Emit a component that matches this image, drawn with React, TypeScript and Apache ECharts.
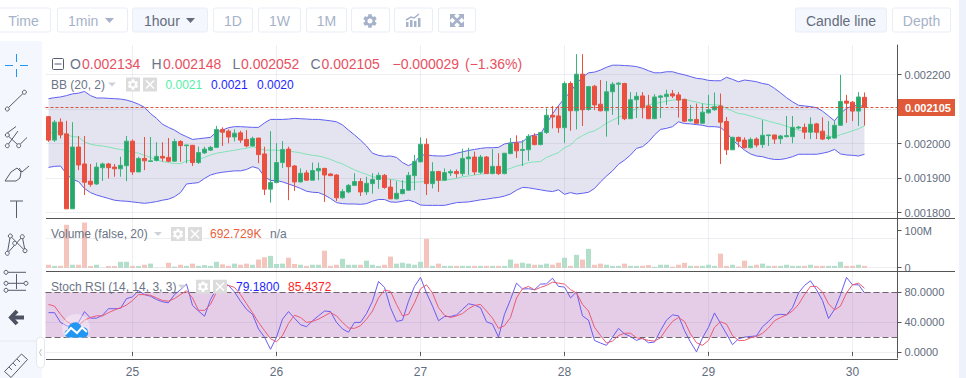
import React, { useEffect, useRef } from "react";
import * as echarts from "echarts";

// [open, close, low, high] in millionths of a unit of price
const candleRows: number[][] = [
[2078,2010,2005,2080],[2010,2062,2005,2068],[2062,2025,2015,2073],[2028,1811,1811,2066],[1811,1990,1811,2062],[1990,1938,1923,2022],[1941,1888,1851,2022],[1891,1882,1875,1941],[1883,1932,1880,1945],[1930,1941,1892,1945],
[1941,1930,1899,1944],[1932,1927,1904,1941],[1927,1937,1904,1962],[1936,2007,1891,2022],[2007,1918,1909,2012],[1918,1957,1917,1962],[1957,1950,1923,2019],[1948,1950,1947,2019],[1951,1963,1948,2004],[1963,1958,1948,2004],
[1960,1949,1946,2016],[1949,2006,1947,2014],[2006,1994,1947,2010],[1994,1996,1943,1996],[1995,1945,1935,1996],[1945,1974,1941,1991],[1973,1984,1970,1991],[1981,1989,1979,1993],[1989,2041,1987,2051],[2041,2033,1993,2047],
[2036,2019,2001,2041],[2019,2030,2006,2041],[2031,2010,2002,2037],[2012,1993,1989,2039],[1993,2015,1991,2020],[2016,1968,1943,2016],[1970,1868,1851,1991],[1868,1887,1829,2036],[1887,1945,1885,2001],[1945,1983,1929,2007],
[1984,1933,1836,1991],[1935,1889,1863,1938],[1889,1914,1887,1928],[1915,1894,1892,1923],[1894,1922,1894,1945],[1921,1928,1894,1945],
[1928,1909,1831,1930],[1912,1907,1906,1914],[1909,1843,1833,1911],[1843,1861,1840,1868],[1860,1879,1856,1883],[1879,1890,1877,1914],[1890,1860,1848,1900],[1860,1885,1851,1904],[1884,1896,1855,1914],[1896,1908,1869,1916],
[1908,1873,1869,1912],[1874,1840,1839,1896],[1840,1856,1838,1891],[1855,1867,1853,1894],[1865,1908,1863,1918],[1907,1948,1865,1967],[1947,1998,1947,2018],[1998,1884,1851,2015],[1884,1919,1870,1946],[1919,1894,1860,1921],
[1894,1916,1892,1928],[1915,1919,1906,1925],[1919,1913,1901,1925],[1913,1957,1906,1985],[1956,1961,1909,1988],[1961,1918,1909,1977],[1917,1961,1912,1967],[1961,1913,1912,1964],[1913,1934,1911,1984],[1934,1913,1909,1972],
[1913,1972,1911,1973],[1971,2001,1969,2016],[2002,1979,1958,2024],[1980,1983,1935,2010],[1982,2021,1950,2027],[2022,1997,1995,2030],[1997,2032,1995,2034],[2032,2082,2028,2102],[2082,2077,2044,2109],[2080,2046,2031,2109],
[2046,2174,2002,2180],[2174,2095,2037,2180],[2095,2201,2041,2259],[2201,2098,2051,2259],[2099,2165,2095,2167],[2166,2112,2097,2170],[2114,2095,2093,2184],[2095,2150,2020,2181],[2150,2172,2083,2178],[2172,2175,2054,2178],
[2174,2072,2068,2176],[2072,2127,2072,2149],[2127,2137,2074,2149],
[2138,2104,2073,2149],[2109,2072,2071,2141],[2072,2135,2071,2143],[2134,2138,2074,2141],[2136,2143,2112,2156],[2144,2138,2132,2155],[2141,2126,2075,2149],[2128,2065,2062,2130],[2066,2070,2063,2112],[2070,2059,2058,2116],
[2059,2091,2058,2116],[2089,2098,2087,2141],[2098,2107,2095,2148],[2109,2062,1941,2145],[2064,1982,1967,2077],[1982,2018,1981,2020],[2018,2007,1989,2020],[2010,1988,1986,2018],[1988,2012,1986,2018],[2013,1996,1989,2018],
[1997,2024,1987,2068],[2023,2025,1993,2025],[2025,2013,1999,2025],[2014,2022,1999,2025],[2020,2023,2018,2080],[2020,2047,2001,2080],[2045,2048,2041,2051],[2047,2033,2013,2058],[2033,2056,2013,2076],[2057,2033,2013,2060],
[2036,2013,2010,2076],[2015,2019,2010,2065],[2016,2053,2014,2065],[2053,2122,2051,2199],[2123,2117,2060,2141],[2120,2094,2065,2123],[2094,2135,2051,2149],[2134,2105,2052,2148],
];

const bbUpper = [
2130,2133,2135,2139,2144,2146,2151,2139,2132,2132,2131,2130,2129,2126,2121,2114,2105,2087,2073,2056,2047,2039,2028,2020,2012,2014,2016,2018,2034,2039,2046,2049,2049,2048,2047,2047,2060,2070,2070,2070,2071,2073,2072,2071,2070,2070,
2068,2066,2063,2054,2039,2025,2010,1993,1972,1966,1963,1964,1960,1945,1936,1945,1967,1967,1965,1964,1964,1967,1972,1976,1980,1983,1986,1988,1988,1989,1999,2002,2004,2005,2020,2025,2027,2057,2086,2110,2131,2150,2174,2192,2205,2207,2213,2221,2227,2227,2226,2225,2223,
2218,2211,2205,2205,2208,2208,2203,2199,2194,2189,2187,2183,2182,2182,2192,2186,2179,2184,2182,2179,2174,2171,2160,2147,2133,2121,2111,2109,2107,2104,2094,2080,2066,2087,2102,2109,2111,2107,
];
const bbLower = [
1931,1934,1935,1912,1896,1890,1870,1858,1851,1846,1841,1836,1834,1833,1831,1829,1827,1829,1832,1836,1839,1846,1858,1883,1885,1887,1899,1909,1914,1917,1919,1921,1921,1925,1933,1928,1904,1893,1893,1889,1883,1877,1870,1862,1859,1858,
1851,1841,1829,1826,1825,1825,1824,1826,1833,1838,1838,1831,1830,1833,1836,1831,1822,1821,1821,1821,1821,1825,1829,1830,1831,1834,1837,1839,1842,1844,1848,1854,1865,1873,1872,1869,1866,1863,1861,1866,1853,1858,1854,1856,1859,1870,1889,1906,1921,1940,1952,1967,1986,
1991,2005,2025,2041,2044,2049,2063,2058,2057,2055,2053,2049,2049,2047,2032,2010,1996,1981,1970,1964,1962,1957,1954,1954,1957,1962,1969,1969,1969,1969,1972,1976,1983,1970,1967,1966,1964,1969,
];
const bbMiddle = [
2030,2033,2035,2026,2020,2019,2005,1998,1995,1993,1990,1986,1983,1979,1976,1972,1966,1960,1952,1948,1945,1942,1942,1950,1952,1954,1960,1967,1972,1975,1978,1981,1984,1986,1991,1987,1981,1981,1981,1979,1978,1976,1973,1969,1966,1964,
1960,1954,1947,1941,1932,1924,1917,1911,1904,1901,1899,1896,1894,1889,1888,1888,1889,1891,1892,1893,1894,1896,1899,1904,1906,1909,1911,1914,1916,1918,1923,1928,1935,1939,1945,1947,1948,1960,1967,1974,1988,1996,2013,2023,2032,2037,2047,2059,2068,2076,2083,2092,2102,
2109,2112,2116,2119,2123,2126,2127,2128,2124,2120,2116,2113,2112,2111,2102,2094,2087,2085,2080,2075,2070,2065,2060,2056,2050,2045,2039,2037,2036,2034,2028,2022,2018,2026,2031,2037,2043,2051,
];

// volume in millions
const volumes = [
8,5,5,116,8,8,122,4.5,8,0.5,4.5,4.5,16,16,5,4.5,8,11,0.5,0.5,13.5,3,8,5,11,5,7,5,16,9,5,11,8,11,8,22,28,32,10,11,27,10,8,5,8,8,
46,5,8,24,8,8,8,19,8,5,8,30,11,13.5,11,8,16,78,5,11,5,5,5,5,5,5,5,5,5,5,5,22,11,13.5,11,8,8,11,8,13.5,27,5,35,22,51,8,11,8,5,5,11,5,5,
5,7,2.5,8,8,3,8,13,5,5,5,8,5,38,5,8,3,19,5,8,11,5,5,5,8,5,5,5,8,5,5,5,5,16,5,5,8,5,
];

const stochK = [
52.7,52.7,39.6,35.2,33.0,39.6,54.1,45.3,45.3,49.2,58.0,58.0,58.5,71.6,73.8,82.2,76.9,74.7,70.3,67.3,65.9,76.9,83.5,91.0,62.4,54.9,47.9,70.3,84.8,92.3,89.2,80.4,68.1,57.1,50.5,30.8,19.8,3.5,19.8,44.0,54.1,45.3,36.5,33.8,41.8,48.4,
54.9,54.1,39.6,30.8,26.4,39.6,39.6,51.4,68.1,94.5,86.6,59.3,40.9,42.6,68.1,87.9,100,79.1,61.5,41.8,47.5,47.5,49.7,57.1,64.6,62.9,59.3,40.4,37.4,19.8,50.5,70.3,92.3,84.4,84.8,83.5,91.0,91.4,98.9,87.9,87.0,72.5,80.4,48.4,42.6,15.4,11.9,8.8,19.8,31.6,24.2,20.7,15.4,
18.5,12.3,13.2,28.6,42.6,49.7,48.4,28.6,13.2,0,18.9,33.0,52.3,38.2,24.2,9.7,17.6,19.8,20.7,21.5,33.8,40.9,49.2,50.5,49.7,59.3,79.1,89.2,95.4,83.5,69.0,44.8,57.1,76.9,100,90.1,90.1,79.18,
];
const stochD = [
63.7,61.5,50.5,40.9,36.5,35.2,42.6,46.2,48.4,48.4,52.7,56.3,59.3,62.9,69.0,76.9,76.9,76.0,72.5,69.0,68.1,71.6,76.9,82.2,72.5,55.8,55.8,63.7,80.4,87.9,89.2,86.6,76.9,64.6,52.7,39.6,28.6,17.6,13.6,22.0,38.2,49.2,46.2,39.6,40.9,44.0,
48.4,52.7,48.4,39.6,32.1,31.6,35.2,44.0,54.9,72.5,83.1,81.3,63.7,48.4,50.5,65.9,84.8,90.1,79.1,59.3,49.2,46.2,48.4,51.4,58.0,62.4,63.7,54.9,45.3,31.6,35.2,46.2,72.5,84.8,87.9,83.1,86.6,89.2,93.6,92.3,91.0,83.5,79.1,63.7,54.9,33.0,22.0,11.9,14.5,22.0,25.1,25.1,18.9,
17.6,15.4,14.5,18.9,30.8,40.9,46.2,40.9,24.2,12.3,8.8,15.4,33.0,40.4,37.4,22.0,15.4,15.4,18.9,20.7,25.1,32.1,41.8,46.2,49.7,54.9,63.7,76.9,87.9,87.9,80.4,64.6,56.3,61.5,79.1,90.1,92.3,85.44,
];

const slotCount = 142;
const dayLabels = ["25", "26", "27", "28", "29", "30"];
const dayFirstSlot = [14, 38, 62, 86, 110, 134];
const priceTicks = [0.0018, 0.0019, 0.002, 0.0022];
const priceGridLines = [0.0018, 0.0019, 0.002, 0.0021, 0.0022];
const lastClose = 0.002105;
const volumeTicks = [0, 100];
const volumeGridLines = [0, 80];
const stochTicks = [0, 40, 80];
const stochGridLines = [0, 40];

const RED = "#e9503f";
const GREEN = "#2aa56c";
const TXT = "#6b7587";
const AXIS_TXT = "#636c7d";
const GRID = "rgba(90,100,135,0.1)";
const FONT = "Liberation Sans";
const ICON = "#555c6b";
const BTN = "#a6b2ca";

const gearD =
  "M19.14,12.94c0.04-0.3,0.06-0.61,0.06-0.94c0-0.32-0.02-0.64-0.07-0.94l2.03-1.58c0.18-0.14,0.23-0.41,0.12-0.61l-1.92-3.32c-0.12-0.22-0.37-0.29-0.59-0.22l-2.39,0.96c-0.5-0.38-1.03-0.7-1.62-0.94L14.4,2.81c-0.04-0.24-0.24-0.41-0.48-0.41h-3.84c-0.24,0-0.43,0.17-0.47,0.41L9.25,5.35C8.66,5.59,8.12,5.92,7.63,6.29L5.24,5.33c-0.22-0.08-0.47,0-0.59,0.22L2.74,8.87C2.62,9.08,2.66,9.34,2.86,9.48l2.03,1.58C4.84,11.36,4.8,11.69,4.8,12s0.02,0.64,0.07,0.94l-2.03,1.58c-0.18,0.14-0.23,0.41-0.12,0.61l1.92,3.32c0.12,0.22,0.37,0.29,0.59,0.22l2.39-0.96c0.5,0.38,1.03,0.7,1.62,0.94l0.36,2.54c0.05,0.24,0.24,0.41,0.48,0.41h3.84c0.24,0,0.44-0.17,0.47-0.41l0.36-2.54c0.59-0.24,1.13-0.56,1.62-0.94l2.39,0.96c0.22,0.08,0.47,0,0.59-0.22l1.92-3.32c0.12-0.22,0.07-0.47-0.12-0.61L19.14,12.94z M12,15.6c-1.98,0-3.6-1.62-3.6-3.6s1.62-3.6,3.6-3.6s3.6,1.62,3.6,3.6S13.98,15.6,12,15.6z";
const cloudD = "M6 16 C1 16 0 9 5 8 C5 3 10 0 14 1 C17 2 18 4 19 6 C24 5 26 10 25 13 C24 15 23 16 21 16 Z";
echarts.graphic.registerShape("gearIcon", echarts.graphic.extendPath(gearD, {}) as any);
echarts.graphic.registerShape("cloudIcon", echarts.graphic.extendPath(cloudD, {}) as any);

const micro = (v: number) => v / 1e6;

const text = (x: number, y: number, t: string, fill: string, size = 12, align = "left", weight = "normal") => ({
  type: "text", x, y, z: 30, silent: true,
  style: { text: t, fill, font: `${weight} ${size}px '${FONT}'`, textAlign: align, textVerticalAlign: "middle" },
});
const line = (x1: number, y1: number, x2: number, y2: number, stroke: string, w = 1) => ({
  type: "line", z: 30, silent: true, shape: { x1, y1, x2, y2 }, style: { stroke, lineWidth: w },
});
const rect = (x: number, y: number, width: number, height: number, fill: string, stroke?: string, r = 0, z = 20) => ({
  type: "rect", z, silent: true, shape: { x, y, width, height, r }, style: { fill, stroke: stroke ?? "none", lineWidth: 1 },
});
const dot = (cx: number, cy: number, r = 2, stroke = ICON) => ({
  type: "circle", z: 30, silent: true, shape: { cx, cy, r }, style: { fill: "#f4f7fd", stroke, lineWidth: 1 },
});
const poly = (points: number[][], stroke: string, w = 1) => ({
  type: "polyline", z: 30, silent: true, shape: { points }, style: { stroke, lineWidth: w, fill: "none" },
});
const solid = (points: number[][], fill: string) => ({
  type: "polygon", z: 30, silent: true, shape: { points }, style: { fill },
});
const gear = (cx: number, cy: number, size: number, fill: string) => ({
  type: "gearIcon", z: 31, silent: true, x: cx - size / 2, y: cy - size / 2, scaleX: size / 24, scaleY: size / 24, style: { fill },
});
const button = (x: number, w: number, label: string, active = false) => [
  rect(x + 0.5, 8, w, 24, active ? "#f4f7fd" : "#ffffff", "#e8edf6", 2),
  ...(label ? [text(x + w / 2 + 0.5, 20.5, label, active ? "#646c7c" : BTN, 14, "center")] : []),
];
const legendControls = (arrowX: number, gearX: number, xX: number, y: number) => [
  solid([[arrowX, y - 2], [arrowX + 8, y - 2], [arrowX + 4, y + 2]], "#cdd2da"),
  rect(gearX, y - 7, 14, 14, "#dcdcdc", undefined, 0, 25),
  gear(gearX + 7, y, 13, "#ffffff"),
  rect(xX, y - 7, 14, 14, "#dcdcdc", undefined, 0, 25),
  line(xX + 3, y - 4, xX + 11, y + 4, "#ffffff", 1.5),
  line(xX + 11, y - 4, xX + 3, y + 4, "#ffffff", 1.5),
];

const graphics: any[] = [
  // toolbar and side panels
  rect(0, 41, 42, 337, "#f4f7fd", undefined, 0, 10),
  rect(959, 0, 7, 378, "#eef2fa", undefined, 0, 10),
  line(0, 341, 36, 341, "#e6eaf3"),
  rect(36.5, 337, 8, 31, "#ffffff", "#e4e8f0", 4, 21),
  poly([[41.5, 349], [39.5, 352.5], [41.5, 356]], "#b4bccb"),
  ...button(-4, 54, "Time"),
  ...button(57, 70, ""),
  text(68, 20.5, "1min", BTN, 14),
  solid([[105, 18], [114, 18], [109.5, 23]], BTN),
  ...button(132, 75, "", true),
  text(144, 20.5, "1hour", "#646c7c", 14),
  solid([[186, 18], [195, 18], [190.5, 23]], "#646c7c"),
  ...button(213, 39, "1D"),
  ...button(258, 42, "1W"),
  ...button(306, 40, "1M"),
  ...button(351, 38, ""),
  ...button(394, 38, ""),
  ...button(438, 37, ""),
  gear(370, 21, 17, BTN),
  rect(406, 22, 2.5, 5, BTN, undefined, 0, 31),
  rect(410, 20, 2.5, 7, BTN, undefined, 0, 31),
  rect(414, 21, 2.5, 6, BTN, undefined, 0, 31),
  rect(418, 18, 2.5, 9, BTN, undefined, 0, 31),
  poly([[406, 20], [411, 17], [414, 18], [419, 14]], BTN, 1.5),
  line(452.5, 16, 461.5, 25, BTN, 2.5),
  line(461.5, 16, 452.5, 25, BTN, 2.5),
  solid([[450, 14], [456, 14], [450, 20]], BTN),
  solid([[464, 14], [458, 14], [464, 20]], BTN),
  solid([[450, 27], [456, 27], [450, 21]], BTN),
  solid([[464, 27], [458, 27], [464, 21]], BTN),
  ...button(795, 91, "Candle line", true),
  ...button(892, 58, "Depth"),
  // drawing tools
  line(5, 65.5, 13, 65.5, "#2196f3", 1),
  line(20, 65.5, 28, 65.5, "#2196f3", 1),
  line(16.5, 54, 16.5, 62, "#2196f3", 1),
  line(16.5, 69, 16.5, 77, "#2196f3", 1),
  line(8.5, 107.5, 23, 93.5, ICON),
  dot(7.3, 109),
  dot(24.4, 92.2),
  line(7.3, 133, 16, 126.5, ICON),
  line(7.3, 145.7, 18, 131, ICON),
  line(18.7, 145.7, 27, 137.5, ICON),
  line(7.3, 135, 18.7, 145.7, ICON),
  dot(7.3, 135),
  dot(7.3, 145.7),
  dot(18.7, 145.7),
  poly([[5, 181], [11, 172], [17, 168], [21, 172], [20, 178], [16, 181], [5, 181]], ICON),
  poly([[19, 168], [22, 172], [29, 166]], ICON),
  line(10, 201, 23, 201, ICON),
  line(16.5, 201, 16.5, 218, ICON),
  line(10.3, 236, 7.3, 253.3, ICON),
  line(10.3, 236, 25, 250.7, ICON),
  line(22.3, 236.7, 7.3, 253.3, ICON),
  line(22.3, 236.7, 25, 250.7, ICON),
  dot(10.3, 236),
  dot(22.3, 236.7),
  dot(14.7, 243.3),
  dot(7.3, 253.3),
  dot(25, 250.7),
  line(6, 272.3, 26, 272.3, ICON),
  line(6, 283.3, 26, 283.3, ICON),
  line(6, 290.3, 26, 290.3, ICON),
  line(16.5, 274, 16.5, 289, ICON),
  dot(6, 272.3),
  dot(6, 283.3),
  dot(26, 283.3),
  dot(6, 290.3),
  poly([[24, 317.5], [11, 317.5]], "#4d5362", 4),
  poly([[17, 311], [11, 317.5], [17, 324]], "#4d5362", 4),
  poly([[4.5, 371.5], [21.5, 354], [27.5, 359.5], [11, 377.5]], ICON),
  line(4.5, 371.5, 11, 377.5, ICON),
  line(9, 367, 12, 370, ICON),
  line(13, 363, 16, 366, ICON),
  line(17, 359, 20, 362, ICON),
  // chart frame
  line(46, 218.5, 955, 218.5, "#555555"),
  line(46, 271.5, 955, 271.5, "#555555"),
  line(46, 359.5, 898, 359.5, "#555555"),
  // price tag
  rect(898, 99, 57, 17, "#e05a3a", undefined, 0, 28),
  text(905, 107.5, "0.002105", "#ffffff", 11, "left", "bold"),
  // OHLC legend
  { type: "rect", z: 30, silent: true, shape: { x: 52.5, y: 58.5, width: 11, height: 11, r: 1 }, style: { fill: "none", stroke: ICON, lineWidth: 1 } },
  line(54.5, 64, 61.5, 64, ICON),
  text(70, 64, "O", TXT, 14),
  text(82, 64, "0.002134", "#e8505f", 14),
  text(151.5, 64, "H", TXT, 14),
  text(163, 64, "0.002148", "#e8505f", 14),
  text(232.5, 64, "L", TXT, 14),
  text(241, 64, "0.002052", "#e8505f", 14),
  text(310.5, 64, "C", TXT, 14),
  text(321.5, 64, "0.002105", "#e8505f", 14),
  text(392.5, 64, "−0.000029", "#e8505f", 14),
  text(465, 64, "(−1.36%)", "#e8505f", 14),
  // indicator legends
  text(51, 84.5, "BB (20, 2)", TXT, 12),
  ...legendControls(108, 126, 143, 84.5),
  text(165.5, 84.5, "0.0021", "#55eea8", 12),
  text(211, 84.5, "0.0021", "#1e1eff", 12),
  text(257, 84.5, "0.0020", "#1e1eff", 12),
  text(51, 234, "Volume (false, 20)", TXT, 12),
  ...legendControls(154, 171, 188, 234),
  text(210, 234, "692.729K", "#e8603c", 12),
  text(270, 234, "n/a", TXT, 12),
  text(51, 286.7, "Stoch RSI (14, 14, 3, 3)", TXT, 12),
  ...legendControls(178, 196, 213, 286.7),
  text(236, 286.7, "79.1800", "#1e1eff", 12),
  text(288, 286.7, "85.4372", "#ff1e1e", 12),
  // watermark
  { type: "circle", z: 26, silent: true, shape: { cx: 76, cy: 328, r: 14 }, style: { fill: "rgba(255,255,255,0.35)" } },
  { type: "cloudIcon", z: 27, silent: true, x: 63, y: 321.5, style: { fill: "#2196f3" } },
  poly([[65, 334.5], [71, 328], [77, 333], [82, 327.5], [87, 332]], "#ffffff", 2),
];

const xAxisFor = (gridIndex: number, labels: boolean) => {
  const categories = Array.from({ length: slotCount }, (_, i) => {
    const d = dayFirstSlot.indexOf(i);
    return d >= 0 ? dayLabels[d] : "";
  });
  const isDay = (i: number) => dayFirstSlot.includes(i);
  return {
    type: "category", gridIndex, data: categories, boundaryGap: true,
    axisLine: { show: false },
    axisTick: { show: labels, interval: (i: number) => isDay(i), length: 4, alignWithLabel: true, lineStyle: { color: "#555555" } },
    axisLabel: { show: labels, interval: (i: number) => isDay(i), color: AXIS_TXT, fontFamily: FONT, fontSize: 12, margin: 8 },
    splitLine: { show: true, interval: (i: number) => isDay(i), alignWithLabel: true, lineStyle: { color: GRID, width: 1 } },
    axisPointer: { show: false },
  };
};
const yAxisFor = (gridIndex: number, min: number, max: number, ticks: number[], fmt: (v: number) => string) => ({
  type: "value", gridIndex, position: "right", min, max, scale: true,
  axisLine: { show: true, lineStyle: { color: "#555555" } },
  axisTick: { show: true, length: 4, customValues: ticks, lineStyle: { color: "#555555" } },
  axisLabel: { show: true, customValues: ticks, margin: 7, color: AXIS_TXT, fontFamily: FONT, fontSize: 11, formatter: fmt },
  splitLine: { show: false },
});
const gridMarks = (values: number[]) => ({
  silent: true, symbol: "none", label: { show: false }, precision: 7,
  lineStyle: { color: GRID, width: 1, type: "solid" },
  data: values.map((v) => ({ yAxis: v })),
});
const plainLine = (name: string, data: number[], color: string, xAxisIndex: number, yAxisIndex: number, z: number) => ({
  type: "line", name, data, xAxisIndex, yAxisIndex, z, showSymbol: false, symbol: "none", silent: true,
  lineStyle: { color, width: 1 }, itemStyle: { color },
});

const option: any = {
  animation: false,
  backgroundColor: "#ffffff",
  graphic: { elements: graphics },
  grid: [
    { left: 45.5, top: 45, width: 852, height: 173.5 },
    { left: 45.5, top: 218.5, width: 852, height: 52.5 },
    { left: 45.5, top: 271, width: 852, height: 88.5 },
  ],
  xAxis: [xAxisFor(0, false), xAxisFor(1, false), xAxisFor(2, true)],
  yAxis: [
    yAxisFor(0, 0.001783, 0.0022855, priceTicks, (v) => v.toFixed(6)),
    yAxisFor(1, -8.9, 133, volumeTicks, (v) => (v === 0 ? "0" : `${v}M`)),
    yAxisFor(2, -8.18, 108.6, stochTicks, (v) => v.toFixed(4)),
  ],
  series: [
    {
      type: "line", name: "band base", data: bbLower.map(micro), stack: "bb", z: 1, symbol: "none", silent: true,
      lineStyle: { opacity: 0, width: 0 }, markLine: gridMarks(priceGridLines),
    },
    {
      type: "line", name: "band", data: bbUpper.map((u, i) => micro(u - bbLower[i])), stack: "bb", z: 1, symbol: "none", silent: true,
      lineStyle: { opacity: 0, width: 0 }, areaStyle: { color: "rgba(120,120,180,0.2)", opacity: 1 },
    },
    {
      ...plainLine("BB middle", bbMiddle.map(micro), "#7fe3b6", 0, 0, 2),
      markLine: {
        silent: true, symbol: "none", label: { show: false }, precision: 7,
        lineStyle: { color: "#d9533a", width: 1, type: [3, 2] },
        data: [{ yAxis: lastClose }],
      },
    },
    plainLine("BB upper", bbUpper.map(micro), "#5f5ff0", 0, 0, 2),
    plainLine("BB lower", bbLower.map(micro), "#5f5ff0", 0, 0, 2),
    {
      type: "candlestick", name: "Candles", z: 3, silent: true, xAxisIndex: 0, yAxisIndex: 0, barWidth: 5,
      data: candleRows.map((r) => r.map(micro)),
      itemStyle: { color: GREEN, color0: RED, borderColor: "#39b47c", borderColor0: RED, borderWidth: 1 },
    },
    {
      type: "bar", name: "Volume", xAxisIndex: 1, yAxisIndex: 1, barWidth: 5, z: 3, silent: true,
      data: volumes.map((v, i) => ({
        value: v,
        itemStyle: { color: candleRows[i][1] >= candleRows[i][0] ? "#b2dfca" : "#f5c4bc" },
      })),
      markLine: gridMarks(volumeGridLines),
    },
    {
      ...plainLine("%K", stochK, "#6a5cf0", 2, 2, 4),
      markArea: { silent: true, itemStyle: { color: "rgba(170,90,180,0.3)" }, data: [[{ yAxis: 20 }, { yAxis: 80 }]] },
      markLine: gridMarks(stochGridLines),
    },
    {
      ...plainLine("%D", stochD, "#ea5a74", 2, 2, 5),
      markLine: {
        silent: true, symbol: "none", label: { show: false },
        lineStyle: { color: "#6e6570", width: 1, type: [6, 3] },
        data: [{ yAxis: 20 }, { yAxis: 80 }],
      },
    },
  ],
};

export default function App() {
  const ref = useRef<HTMLDivElement>(null);
  useEffect(() => {
    document.body.style.margin = "0";
    const chart = echarts.init(ref.current!, undefined, { renderer: "svg" });
    chart.setOption(option);
    return () => chart.dispose();
  }, []);
  return <div ref={ref} style={{ width: 966, height: 378 }} />;
}
